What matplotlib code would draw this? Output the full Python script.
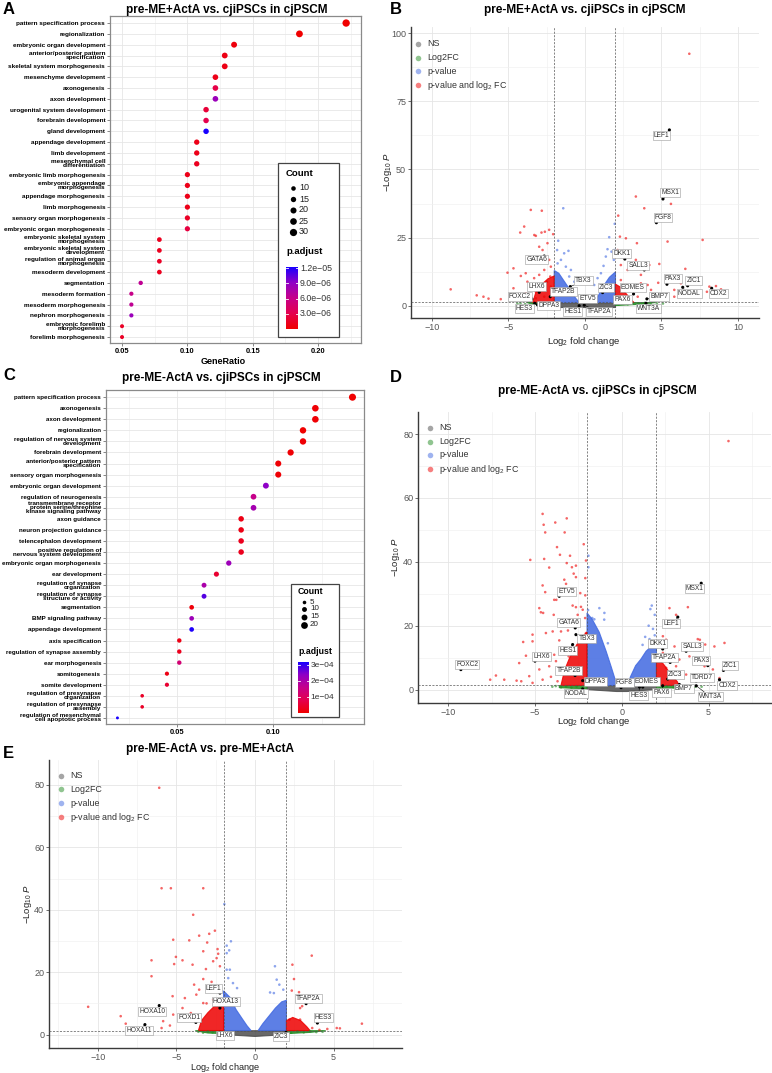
import numpy as np
import matplotlib
matplotlib.use('Agg')
import matplotlib.pyplot as plt
from matplotlib.colors import LinearSegmentedColormap
from matplotlib.lines import Line2D
from matplotlib.patches import Rectangle, Polygon
from matplotlib.ticker import MultipleLocator

plt.rcParams['font.family'] = ['Liberation Sans', 'DejaVu Sans']
plt.rcParams['mathtext.fontset'] = 'custom'
plt.rcParams['mathtext.rm'] = 'Liberation Sans'
plt.rcParams['mathtext.it'] = 'Liberation Sans:italic'
plt.rcParams['mathtext.bf'] = 'Liberation Sans:bold'

# ---------------- Panel A: GO enrichment (pre-ME+ActA vs cjiPSCs) ----------------
a_terms = ['pattern specification process', 'regionalization', 'embryonic organ development',
           'anterior/posterior pattern\nspecification', 'skeletal system morphogenesis',
           'mesenchyme development', 'axonogenesis', 'axon development',
           'urogenital system development', 'forebrain development', 'gland development',
           'appendage development', 'limb development', 'mesenchymal cell\ndifferentiation',
           'embryonic limb morphogenesis', 'embryonic appendage\nmorphogenesis',
           'appendage morphogenesis', 'limb morphogenesis', 'sensory organ morphogenesis',
           'embryonic organ morphogenesis', 'embryonic skeletal system\nmorphogenesis',
           'embryonic skeletal system\ndevelopment', 'regulation of animal organ\nmorphogenesis',
           'mesoderm development', 'segmentation', 'mesoderm formation',
           'mesoderm morphogenesis', 'nephron morphogenesis',
           'embryonic forelimb\nmorphogenesis', 'forelimb morphogenesis']
a_count = [31, 26, 19, 18, 18, 17, 17, 17, 16, 16, 16, 15, 15, 15, 14,
           14, 14, 14, 14, 14, 11, 11, 11, 11, 9, 8, 8, 8, 7, 7]
a_total = 140
a_padj = [2e-10, 5e-9, 5e-7, 8e-7, 8e-7, 1.0e-6, 2.8e-6, 8.5e-6, 2.2e-6, 3.0e-6,
          1.22e-5, 1.0e-6, 1.0e-6, 1.2e-6, 1.0e-6, 1.0e-6, 1.0e-6, 1.0e-6, 1.5e-6, 2.5e-6,
          1.2e-6, 1.2e-6, 1.5e-6, 1.2e-6, 6.5e-6, 6.0e-6, 6.5e-6, 8.5e-6, 1.5e-6, 1.5e-6]

# ---------------- Panel C: GO enrichment (pre-ME-ActA vs cjiPSCs) ----------------
c_terms = ['pattern specification process', 'axonogenesis', 'axon development', 'regionalization',
           'regulation of nervous system\ndevelopment', 'forebrain development',
           'anterior/posterior pattern\nspecification', 'sensory organ morphogenesis',
           'embryonic organ development', 'regulation of neurogenesis',
           'transmembrane receptor\nprotein serine/threonine\nkinase signaling pathway',
           'axon guidance', 'neuron projection guidance', 'telencephalon development',
           'positive regulation of\nnervous system development', 'embryonic organ morphogenesis',
           'ear development', 'regulation of synapse\norganization',
           'regulation of synapse\nstructure or activity', 'segmentation', 'BMP signaling pathway',
           'appendage development', 'axis specification', 'regulation of synapse assembly',
           'ear morphogenesis', 'somitogenesis', 'somite development',
           'regulation of presynapse\norganization', 'regulation of presynapse\nassembly',
           'regulation of mesenchymal\ncell apoptotic process']
c_count = [22, 19, 19, 18, 18, 17, 16, 16, 15, 14, 14, 13, 13, 13, 13, 12, 11, 10, 10,
           9, 9, 9, 8, 8, 8, 7, 7, 5, 5, 3]
c_total = 156
c_padj = [1e-9, 5e-6, 5e-6, 1e-6, 5e-6, 5e-6, 5e-6, 5e-6, 2.4e-4, 1.6e-4, 2.1e-4, 2e-5, 2e-5,
          3e-5, 3e-5, 2.2e-4, 5e-5, 2.0e-4, 2.8e-4, 1e-5, 2.2e-4, 3.15e-4, 2e-5, 3e-5, 1.3e-4,
          2e-5, 5e-5, 4e-5, 4e-5, 3.2e-4]

# ---------------- Panel B: volcano pre-ME+ActA vs cjiPSCs ----------------
b_genes = ['LEF1', 'MSX1', 'FGF8', 'DKK1', 'SALL3', 'PAX3', 'ZIC1', 'NODAL', 'CDX2', 'EOMES',
           'BMP7', 'WNT3A', 'PAX6', 'ZIC3', 'ETV5', 'TFAP2A', 'HES1', 'TBX3', 'TFAP2B', 'GATA6',
           'LHX6', 'FOXC2', 'HES3', 'DPPA3']
b_gene_fc = [5.52, 5.10, 4.67, 2.61, 3.88, 5.36, 6.71, 6.39, 8.28, 3.18, 4.05, 3.99, 2.42, 1.16,
             0.65, -0.04, -0.37, -0.95, -2.26, -2.65, -2.98, -3.46, -3.27, -3.09]
b_gene_p = [64.5, 39.2, 30.5, 17.2, 13.2, 7.95, 7.4, 6.85, 6.5, 4.4, 2.6, 1.0, 2.8, 4.9, 1.6,
            0.3, 0.1, 7.1, 3.4, 18.3, 5.0, 2.6, 1.0, 0.4]
b_red = [(-8.76, 6.1), (-7.06, 3.9), (-6.62, 3.4), (-6.29, 2.7), (-5.49, 2.5), (-5.05, 12.2),
         (-4.66, 13.8), (-4.66, 6.5), (-4.22, 26.9), (-3.96, 29.1), (-3.53, 35.2), (-2.81, 34.9),
         (-3.20, 25.7), (-3.30, 26.0), (-2.83, 26.9), (-2.61, 27.2), (-2.33, 27.9), (-2.07, 26.3),
         (-2.98, 21.7), (-2.76, 20.5), (-2.44, 23.0), (-2.33, 16.9), (-4.18, 11.0), (-3.86, 12.0),
         (-3.75, 8.9), (-3.31, 10.2), (-2.98, 11.4), (-2.65, 13.2), (-2.22, 14.4), (-4.24, 3.4),
         (-3.86, 4.6), (-3.42, 7.1), (-2.87, 7.7), (-2.48, 8.9), (-2.22, 7.1), (-2.26, 10.8),
         (-2.55, 5.9), (-3.20, 5.2), (-3.64, 3.4), (-2.65, 3.4), (-3.20, 2.8),
         (2.18, 33.1), (3.33, 40.1), (3.88, 35.8), (5.62, 37.4), (5.40, 23.6), (7.69, 24.2),
         (2.29, 25.4), (2.68, 24.8), (3.40, 23.0), (2.14, 20.5), (3.33, 16.9), (4.21, 15.0),
         (4.86, 15.4), (6.56, 13.6), (2.35, 15.0), (2.79, 13.2), (3.66, 11.4), (3.88, 13.2),
         (4.79, 8.5), (5.95, 10.2), (6.27, 8.3), (8.13, 7.1), (8.56, 7.3), (8.89, 6.1),
         (7.97, 5.2), (5.84, 5.9), (5.84, 3.4), (6.50, 3.4), (4.10, 7.7), (4.32, 5.9),
         (2.35, 9.5), (2.61, 7.1), (3.01, 5.9), (2.35, 5.2), (3.45, 3.4), (5.19, 2.8),
         (3.66, 8.3), (6.82, 92.4)]
b_blue = [(-1.41, 35.8), (-1.74, 23.9), (-1.81, 20.5), (-1.07, 20.2), (-1.35, 19.3),
          (-1.56, 16.9), (-1.78, 15.6), (-1.24, 14.4), (-0.91, 13.2), (-1.02, 10.8),
          (-0.69, 8.9), (1.95, 30.1), (1.59, 25.2), (1.48, 20.8), (1.37, 18.1), (1.74, 19.9),
          (1.92, 20.5), (1.22, 14.7), (1.05, 12.0), (0.83, 10.2), (0.61, 7.7), (1.89, 16.9)]
b_green = [(-4.4, 0.9), (-4.2, 1.0), (-3.9, 0.7), (-3.6, 1.1), (-3.4, 0.6), (-3.1, 0.9),
           (-2.8, 0.5), (-2.5, 0.8), (-2.2, 0.4), (2.2, 0.5), (2.5, 0.9), (2.8, 0.6), (3.1, 1.0),
           (3.5, 0.7), (3.9, 1.1), (4.3, 0.8), (4.7, 1.0), (5.1, 0.9)]
# dense point clouds, read as outlines
b_blue_core_l = [(-2.0, 1.3), (-2.0, 13), (-1.7, 12), (-1.4, 9.5), (-1.1, 7), (-0.8, 4.5),
                 (-0.55, 2.5), (-0.35, 1.3)]
b_blue_core_r = [(0.6, 1.3), (0.8, 3), (1.0, 5), (1.3, 8), (1.6, 10.5), (2.0, 12.5), (2.0, 1.3)]
b_red_core_l = [(-3.4, 1.3), (-3.2, 5), (-2.8, 8), (-2.4, 10), (-2.0, 11), (-2.0, 1.3)]
b_red_core_r = [(2.0, 1.3), (2.0, 8), (2.3, 7), (2.7, 4.5), (3.0, 2.5), (3.2, 1.3)]
b_green_core_l = [(-3.8, 1.25), (-2.0, 1.25), (-2.0, 0.15), (-3.0, 0.5)]
b_green_core_r = [(2.0, 0.15), (2.0, 1.25), (4.6, 1.25), (3.5, 0.6)]
b_grey_core = [(-2.0, -0.4), (-2.0, 1.25), (2.0, 1.25), (2.0, -0.4)]

# ---------------- Panel D: volcano pre-ME-ActA vs cjiPSCs ----------------
d_genes = ['MSX1', 'ETV5', 'LEF1', 'GATA6', 'TBX3', 'HES1', 'DKK1', 'SALL3', 'LHX6', 'TFAP2A',
           'PAX3', 'FOXC2', 'ZIC1', 'TFAP2B', 'TDRD7', 'ZIC3', 'DPPA3', 'CDX2', 'FGF8', 'EOMES',
           'NODAL', 'HES3', 'PAX6', 'BMP7', 'WNT3A']
d_gene_fc = [4.58, -3.6, 3.23, -2.68, -2.64, -2.83, 2.36, 3.71, -5.0, 2.79, 4.96, -9.27, 5.86,
             -2.69, 4.29, 2.65, -2.25, 5.63, -0.04, 1.21, -2.25, 1.02, 2.36, 3.32, 4.29]
d_gene_p = [33.3, 29.2, 22.7, 19.3, 17.2, 14.1, 12.7, 12.0, 8.9, 8.5, 7.5, 6.25, 6.0, 4.4, 2.6,
            3.3, 2.8, 3.1, 0.6, 0.8, 0.2, 0.8, 1.2, 1.6, 1.2]
d_red = [(-4.56, 55.0), (-4.50, 51.6), (-4.41, 49.2), (-3.83, 52.3), (-3.17, 53.6), (-3.29, 49.2),
         (-2.19, 45.5), (-3.73, 44.6), (-3.56, 42.2), (-2.98, 41.9), (-5.27, 40.6), (-4.47, 40.9),
         (-4.18, 38.2), (-3.17, 39.6), (-2.87, 38.3), (-2.64, 38.8), (-2.06, 40.4), (-2.77, 36.3),
         (-3.31, 34.4), (-2.64, 35.2), (-2.10, 34.9), (-3.21, 33.1), (-4.56, 32.6), (-4.41, 30.5),
         (-2.39, 30.2), (-2.10, 29.5), (-3.89, 28.1), (-3.77, 28.1), (-4.75, 25.5), (-4.66, 24.2),
         (-3.92, 23.4), (-2.83, 26.3), (-2.64, 25.8), (-2.35, 25.9), (-4.53, 24.0), (-5.14, 17.2),
         (-5.68, 14.9), (-5.14, 15.1), (-4.37, 17.7), (-3.98, 18.2), (-3.60, 15.4), (-3.50, 18.2),
         (-3.10, 18.5), (-5.91, 8.3), (-5.52, 10.6), (-4.85, 9.4), (-4.37, 10.9), (-3.89, 10.9),
         (-3.79, 8.9), (-4.18, 7.3), (-4.75, 6.3), (-5.33, 4.2), (-6.06, 2.8), (-6.77, 3.1),
         (-7.25, 4.4), (-7.58, 3.1), (-5.79, 2.6), (-5.14, 2.1), (-4.56, 3.1), (-4.08, 4.0),
         (-3.70, 2.6), (-2.25, 25.0), (-2.54, 23.4), (-2.11, 22.4), (-2.06, 17.7), (-3.44, 13.0),
         (-3.06, 10.4),
         (2.75, 25.5), (3.13, 23.4), (3.81, 25.8), (2.37, 16.7), (2.56, 15.6), (3.04, 13.5),
         (4.38, 15.8), (4.50, 15.6), (4.81, 14.1), (5.34, 13.5), (5.92, 14.6), (2.37, 11.5),
         (3.32, 9.4), (3.90, 10.4), (4.20, 8.3), (2.56, 6.8), (3.13, 7.3), (4.77, 7.3),
         (5.25, 6.3), (5.63, 3.6), (3.71, 4.7), (4.67, 4.2), (4.10, 3.1), (6.15, 77.8)]
d_blue = [(-1.92, 41.9), (-1.92, 38.3), (-1.29, 25.5), (-1.94, 24.9), (-1.00, 24.0),
          (-1.58, 22.0), (-1.01, 21.9), (-1.70, 22.4), (-0.80, 14.5), (1.73, 26.3), (1.65, 25.2),
          (1.90, 23.4), (1.55, 20.0), (1.80, 19.0), (1.90, 17.0), (1.35, 16.5), (1.60, 15.8),
          (1.20, 14.0)]
d_green = [(-4.0, 0.9), (-3.8, 1.1), (-3.5, 0.7), (-3.2, 1.0), (-2.9, 0.6), (-2.6, 0.9),
           (-2.3, 0.5), (2.2, 0.6), (2.6, 1.0), (3.0, 0.7), (3.4, 1.1), (3.8, 0.8), (4.2, 1.0),
           (4.6, 0.9)]
d_blue_core_l = [(-2.0, 1.3), (-2.0, 24), (-1.7, 22), (-1.3, 18), (-1.1, 15), (-0.9, 12),
                 (-0.6, 7), (-0.4, 3.5), (-0.25, 1.3)]
d_blue_core_r = [(0.35, 1.3), (0.5, 4), (0.8, 7.5), (1.1, 9.5), (1.4, 12), (1.7, 13.5),
                 (2.0, 14), (2.0, 1.3)]
d_red_core_l = [(-3.5, 1.3), (-3.3, 6), (-3.0, 10), (-2.6, 14), (-2.2, 17), (-2.0, 18),
                (-2.0, 1.3)]
d_red_core_r = [(2.0, 1.3), (2.0, 10), (2.4, 8), (2.8, 5), (3.2, 2.5), (3.3, 1.3)]
d_green_core_l = [(-3.6, 0.6), (-3.6, 1.25), (-2.0, 1.25), (-2.0, 0.3), (-2.8, 0.4)]
d_green_core_r = [(2.0, 0.3), (2.0, 1.25), (4.3, 1.25), (4.3, 0.8), (3.0, 0.5)]
d_grey_core = [(-2.0, 0.0), (-2.0, 1.25), (2.0, 1.25), (2.0, 0.0), (0.3, -0.6), (-0.3, -0.6)]

# ---------------- Panel E: volcano pre-ME-ActA vs pre-ME+ActA ----------------
e_genes = ['LEF1', 'HOXA13', 'HOXA10', 'FOXD1', 'HOXA11', 'LHX6', 'ZIC3', 'TFAP2A', 'HES3']
e_gene_fc = [-2.23, -2.23, -6.09, -3.76, -7.0, -2.23, 1.97, 3.25, 3.97]
e_gene_p = [13.3, 8.5, 9.3, 3.9, 3.2, 0.7, 0.7, 9.9, 3.7]
e_red = [(-10.61, 8.9), (-8.54, 5.9), (-8.22, 3.5), (-6.58, 18.7), (-6.58, 23.8), (-5.84, 4.3),
         (-5.94, 2.1), (-5.41, 2.9), (-5.24, 12.3), (-5.20, 30.4), (-5.03, 24.9), (-5.14, 22.6),
         (-4.61, 23.8), (-4.18, 30.2), (-3.97, 22.4), (-3.87, 16.0), (-3.55, 31.7), (-2.91, 32.3),
         (-2.55, 33.3), (-3.04, 29.5), (-3.29, 26.7), (-3.12, 21.0), (-3.29, 17.8), (-2.76, 16.9),
         (-2.38, 27.4), (-2.44, 24.5), (-2.23, 21.9), (-2.34, 25.9), (-2.66, 23.5), (-3.55, 14.4),
         (-4.46, 11.7), (-4.61, 8.5), (-5.20, 6.4), (-4.08, 6.9), (-4.46, 4.8), (-3.29, 10.1),
         (-3.73, 12.8), (-3.08, 10.0), (-2.66, 11.2), (-6.09, 79.1), (-5.94, 46.9), (-5.35, 46.9),
         (-3.29, 46.9), (-3.93, 38.4),
         (2.38, 22.4), (2.48, 17.8), (3.61, 25.3), (2.34, 14.1), (2.80, 13.6), (2.87, 8.5),
         (3.00, 9.1), (6.80, 3.5), (5.20, 2.1), (5.40, 2.0), (3.64, 2.1), (4.60, 1.8),
         (4.10, 1.5), (2.19, 4.8), (2.87, 4.8)]
e_blue = [(-1.95, 41.8), (-1.80, 28.5), (-1.53, 29.9), (-1.64, 27.0), (-1.80, 26.1),
          (-1.80, 20.8), (-1.60, 20.8), (-1.70, 18.1), (-1.40, 16.5), (-1.14, 14.9), (1.27, 21.9),
          (1.80, 14.4), (1.38, 17.6), (0.96, 13.5), (1.55, 16.0), (1.20, 13.3)]
e_green = [(-3.6, 0.9), (-3.3, 0.6), (-3.0, 1.0), (-2.7, 0.7), (-2.4, 0.5), (2.3, 0.6),
           (2.7, 1.0), (3.1, 0.7), (3.5, 1.1), (3.9, 0.8), (4.3, 0.9)]
e_blue_core_l = [(-2.0, 1.3), (-2.0, 14), (-1.6, 12), (-1.2, 8), (-0.8, 5), (-0.5, 2.8),
                 (-0.25, 1.3)]
e_blue_core_r = [(0.2, 1.3), (0.5, 3.5), (0.9, 6), (1.3, 8.5), (1.7, 10.5), (2.0, 11), (2.0, 1.3)]
e_red_core_l = [(-3.6, 1.3), (-3.4, 4.5), (-3.0, 7), (-2.6, 9), (-2.2, 10), (-2.0, 10), (-2.0, 1.3)]
e_red_core_r = [(2.0, 1.3), (2.0, 4.5), (2.4, 5.5), (2.9, 4.5), (3.3, 2.5), (3.5, 1.3)]
e_green_core_l = [(-3.8, 1.25), (-2.0, 1.25), (-2.0, 0.3), (-3.0, 0.5)]
e_green_core_r = [(2.0, 0.3), (2.0, 1.25), (4.5, 1.25), (3.5, 0.7)]
e_grey_core = [(-2.0, 0.0), (-2.0, 1.25), (2.0, 1.25), (2.0, 0.0), (0.0, -0.6)]

# label placement (ggrepel-like), in data units
b_lab_x = [5.0, 5.58, 5.10, 2.42, 3.49, 5.75, 7.1, 6.82, 8.72, 3.12, 4.84, 4.14, 2.46, 1.37, 0.18,
           0.94, -0.78, -0.1, -1.41, -3.14, -3.16, -4.25, -3.96, -2.37]
b_lab_y = [62.4, 41.5, 32.5, 19.1, 14.9, 10.2, 9.5, 4.7, 4.4, 6.7, 3.4, -1.0, 2.5, 6.9, 2.6, -2.2,
           -2.1, 9.2, 5.2, 16.9, 7.3, 3.3, -1.0, 0.0]
d_lab_x = [4.19, -3.17, 2.84, -3.06, -2.02, -3.12, 2.08, 4.06, -4.62, 2.46, 4.58, -8.89, 6.25,
           -3.06, 4.62, 3.09, -1.52, 6.06, 0.15, 1.44, -2.64, 0.98, 2.29, 3.58, 5.1]
d_lab_y = [31.6, 30.7, 20.8, 21.0, 15.9, 12.2, 14.5, 13.4, 10.4, 10.1, 9.1, 8.0, 7.5, 6.0, 3.8,
           4.6, 2.5, 1.3, 2.2, 2.5, -1.3, -1.7, -1.0, 0.2, -2.2]
e_lab_x = [-2.63, -1.85, -6.52, -4.18, -7.37, -1.91, 1.64, 3.4, 4.35]
e_lab_y = [14.9, 10.5, 7.5, 5.5, 1.3, -0.3, -0.5, 11.5, 5.5]

W, H = 772, 1073
fig = plt.figure(figsize=(W / 100, H / 100), dpi=100)

cmap = LinearSegmentedColormap.from_list(
    'padj', [(0, '#F00000'), (0.25, '#E5004E'), (0.5, '#C6008A'), (0.75, '#9000C6'), (1, '#1800FF')])

COL = {'NS': '#4D4D4D', 'FC': '#228B22', 'P': '#4169E1', 'PFC': '#EE0000'}


def fx(x):
    return x / W


def fy(y):
    return 1 - y / H


def px_axes(x0, y0, x1, y1):
    return fig.add_axes([x0 / W, 1 - y1 / H, (x1 - x0) / W, (y1 - y0) / H])


def ftext(x, y, s, **kw):
    fig.text(fx(x), fy(y), s, **kw)


def dotplot(rect, terms, counts, total, padj, vmax, xlim, xticks, size_fn, fs):
    ax = px_axes(*rect)
    counts = np.array(counts)
    y = np.arange(len(terms))
    ax.scatter(counts / total, y, s=size_fn(counts), c=padj, cmap=cmap, vmin=0, vmax=vmax,
               edgecolors='none', zorder=3)
    ax.set_xlim(*xlim)
    ax.set_ylim(len(terms) - 1 + 0.55, -0.65)
    ax.set_yticks(y)
    ax.set_yticklabels(terms, fontsize=fs, fontweight='bold', linespacing=0.75)
    ax.set_xticks(xticks)
    ax.set_xticklabels(['%.2f' % t for t in xticks], fontsize=5.4, fontweight='bold')
    ax.xaxis.set_minor_locator(MultipleLocator(0.025))
    ax.set_axisbelow(True)
    ax.grid(which='major', color='#E6E6E6', lw=0.6)
    ax.grid(which='minor', axis='x', color='#F0F0F0', lw=0.5)
    ax.tick_params(axis='both', length=2, width=0.5, color='#555555', pad=1.5)
    ax.tick_params(axis='x', which='minor', length=0)
    for s in ax.spines.values():
        s.set_color('#8A8A8A')
        s.set_linewidth(0.9)
    return ax


def legend_box(x0, y0, x1, y1):
    fig.add_artist(Rectangle((fx(x0), fy(y1)), (x1 - x0) / W, (y1 - y0) / H,
                             transform=fig.transFigure, fc='white', ec='#444444', lw=0.9,
                             zorder=1))


def colorbar(rect, vmax, ticks, labels, fs):
    cb = px_axes(*rect)
    cb.set_zorder(5)
    cb.patch.set_alpha(0)
    grad = np.linspace(0, vmax, 256).reshape(-1, 1)
    cb.imshow(grad, origin='lower', extent=[0, 1, 0, vmax], aspect='auto', cmap=cmap,
              vmin=0, vmax=vmax)
    cb.set_xlim(0, 1)
    cb.set_ylim(0, vmax)
    cb.axis('off')
    tr = cb.get_yaxis_transform()
    for t, lab in zip(ticks, labels):
        cb.plot([0, 0.2], [t, t], color='white', lw=0.6, transform=tr)
        cb.plot([0.8, 1], [t, t], color='white', lw=0.6, transform=tr)
        cb.text(1.15, t, lab, transform=tr, fontsize=fs, va='center', ha='left', color='#333333',
                clip_on=False)


# ---- Panel A ----
size_a = lambda c: 2.6 + 0.82 * c
dotplot((110, 16, 361, 343), a_terms, a_count, a_total, a_padj, 1.22e-5, (0.0408, 0.2328),
        [0.05, 0.10, 0.15, 0.20], size_a, 4.6)
legend_box(278, 163, 339, 337)
ftext(286, 174, 'Count', fontsize=6.8, fontweight='bold', va='center', zorder=4)
for c, yy in zip([10, 15, 20, 25, 30], [188, 199, 210, 221, 232]):
    fig.add_artist(Line2D([fx(293)], [fy(yy)], marker='o', ms=np.sqrt(size_a(c)), color='black',
                          mec='none', ls='', transform=fig.transFigure, zorder=4))
    ftext(299, yy, str(c), fontsize=6.5, va='center', color='#222222', zorder=4)
ftext(286, 252, 'p.adjust', fontsize=6.8, fontweight='bold', va='center', zorder=4)
colorbar((286, 267, 298, 329), 1.22e-5, [3e-6, 6e-6, 9e-6, 1.2e-5],
         ['3.0e\u221206', '6.0e\u221206', '9.0e\u221206', '1.2e\u221205'], 6.3)
ftext(223, 362, 'GeneRatio', fontsize=6.5, fontweight='bold', ha='center', va='center')
ftext(227, 10, 'pre-ME+ActA vs. cjiPSCs in cjPSCM', fontsize=8.5, fontweight='bold',
      ha='center', va='center')
ftext(3, 10, 'A', fontsize=12, fontweight='bold', va='center')

# ---- Panel C ----
size_c = lambda c: 1.1 + 1.13 * c
dotplot((106, 390, 364, 724), c_terms, c_count, c_total, c_padj, 3.2e-4, (0.0133, 0.147),
        [0.05, 0.10], size_c, 4.5)
legend_box(291, 584, 339, 717)
ftext(298, 591, 'Count', fontsize=6.3, fontweight='bold', va='center', zorder=4)
for c, yy in zip([5, 10, 15, 20], [602, 609, 617, 625]):
    fig.add_artist(Line2D([fx(304)], [fy(yy)], marker='o', ms=np.sqrt(size_c(c)), color='black',
                          mec='none', ls='', transform=fig.transFigure, zorder=4))
    ftext(310, yy, str(c), fontsize=5.8, va='center', color='#222222', zorder=4)
ftext(298, 651, 'p.adjust', fontsize=6.3, fontweight='bold', va='center', zorder=4)
colorbar((298, 662, 309, 713), 3.2e-4, [1e-4, 2e-4, 3e-4],
         ['1e\u221204', '2e\u221204', '3e\u221204'], 6.0)
ftext(221, 378, 'pre-ME-ActA vs. cjiPSCs in cjPSCM', fontsize=8.5, fontweight='bold',
      ha='center', va='center')
ftext(3, 376, 'C', fontsize=12, fontweight='bold', va='center')


def volcano(rect, cores, red, blue, green, genes, gfc, gp, lab_x, lab_y, xlim, ylim, ystep):
    ax = px_axes(*rect)
    ax.set_xlim(*xlim)
    ax.set_ylim(*ylim)
    ax.xaxis.set_major_locator(MultipleLocator(5))
    ax.xaxis.set_minor_locator(MultipleLocator(2.5))
    ax.yaxis.set_major_locator(MultipleLocator(ystep))
    ax.yaxis.set_minor_locator(MultipleLocator(ystep / 2))
    ax.set_axisbelow(True)
    ax.grid(which='major', color='#E5E5E5', lw=0.6)
    ax.grid(which='minor', color='#F0F0F0', lw=0.45)
    ax.tick_params(axis='both', which='major', labelsize=6.5, labelcolor='#555555', length=2,
                   width=0.6, color='#555555', pad=1.5)
    ax.tick_params(axis='both', which='minor', length=0)
    ax.set_xticks(ax.get_xticks())
    ax.set_xticklabels([('\u2212%d' % -t if t < 0 else '%d' % t) for t in ax.get_xticks()])
    ax.set_xlim(*xlim)
    for s in ['top', 'right']:
        ax.spines[s].set_visible(False)
    for s in ['left', 'bottom']:
        ax.spines[s].set_color('#3A3A3A')
        ax.spines[s].set_linewidth(1.0)
    for key, pts in cores:
        ax.add_patch(Polygon(pts, closed=True, fc=COL[key], ec=COL[key], lw=0.8, alpha=0.85,
                             zorder=2))
    for key, pts in [('FC', green), ('P', blue), ('PFC', red)]:
        xs, ys = zip(*pts)
        ax.scatter(xs, ys, s=3.5, color=COL[key], alpha=0.6, edgecolors='none', zorder=3)
    ax.axvline(-2, color='#555555', lw=0.5, ls=(0, (3, 2)), zorder=4)
    ax.axvline(2, color='#555555', lw=0.5, ls=(0, (3, 2)), zorder=4)
    ax.axhline(1.3, color='#555555', lw=0.5, ls=(0, (3, 2)), zorder=4)
    ax.scatter(gfc, gp, s=5, color='black', edgecolors='none', zorder=5)
    for g, x, y, lx, ly in zip(genes, gfc, gp, lab_x, lab_y):
        ax.annotate(g, xy=(x, y), xytext=(lx, ly), textcoords='data', ha='center', va='center',
                    fontsize=4.8, color='#333333', zorder=6,
                    bbox=dict(boxstyle='square,pad=0.15', fc='white', ec='#999999', lw=0.4),
                    arrowprops=dict(arrowstyle='-', lw=0.4, color='black', shrinkA=0, shrinkB=0))
    return ax


def vlegend(x, ys):
    for key, lab, yy in zip(['NS', 'FC', 'P', 'PFC'],
                            ['NS', 'Log2FC', 'p-value', 'p-value and log$_2$ FC'], ys):
        fig.add_artist(Line2D([fx(x)], [fy(yy)], marker='o', ms=4.0, color=COL[key], alpha=0.5,
                              mec='none', ls='', transform=fig.transFigure))
        ftext(x + 9, yy, lab, fontsize=6.4, va='center', color='#333333')


def cores_of(grey, gl, gr, bl, br, rl, rr):
    return [('NS', grey), ('FC', gl), ('FC', gr), ('P', bl), ('P', br), ('PFC', rl), ('PFC', rr)]


YLAB = r'$-\mathrm{Log}_{10}\ \mathit{P}$'
XLAB = r'$\mathrm{Log}_{2}$ fold change'

# ---- Panel B ----
volcano((411, 27, 759, 318),
        cores_of(b_grey_core, b_green_core_l, b_green_core_r, b_blue_core_l, b_blue_core_r,
                 b_red_core_l, b_red_core_r),
        b_red, b_blue, b_green, b_genes, b_gene_fc, b_gene_p, b_lab_x, b_lab_y,
        (-11.35, 11.37), (-4.4, 102.2), 25)
vlegend(418, [44, 58, 71, 85])
ftext(585, 10, 'pre-ME+ActA vs. cjiPSCs in cjPSCM', fontsize=8.5, fontweight='bold',
      ha='center', va='center')
ftext(390, 10, 'B', fontsize=12, fontweight='bold', va='center')
ftext(584, 342, XLAB, fontsize=6.8, ha='center', va='center', color='#222222')
ftext(388, 172, YLAB, fontsize=6.8, ha='center', va='center', rotation=90, color='#222222')

# ---- Panel D ----
volcano((418, 412, 771, 703),
        cores_of(d_grey_core, d_green_core_l, d_green_core_r, d_blue_core_l, d_blue_core_r,
                 d_red_core_l, d_red_core_r),
        d_red, d_blue, d_green, d_genes, d_gene_fc, d_gene_p, d_lab_x, d_lab_y,
        (-11.74, 8.6), (-4.2, 86.9), 20)
vlegend(430, [428, 442, 455, 469])
ftext(597, 391, 'pre-ME-ActA vs. cjiPSCs in cjPSCM', fontsize=8.5, fontweight='bold',
      ha='center', va='center')
ftext(390, 377, 'D', fontsize=12, fontweight='bold', va='center')
ftext(594, 722, XLAB, fontsize=6.8, ha='center', va='center', color='#222222')
ftext(396, 557, YLAB, fontsize=6.8, ha='center', va='center', rotation=90, color='#222222')

# ---- Panel E ----
volcano((49, 760, 402, 1048),
        cores_of(e_grey_core, e_green_core_l, e_green_core_r, e_blue_core_l, e_blue_core_r,
                 e_red_core_l, e_red_core_r),
        e_red, e_blue, e_green, e_genes, e_gene_fc, e_gene_p, e_lab_x, e_lab_y,
        (-13.1, 9.35), (-4.3, 88), 20)
vlegend(61, [776, 789, 803, 817])
ftext(210, 749, 'pre-ME-ActA vs. pre-ME+ActA', fontsize=8.5, fontweight='bold',
      ha='center', va='center')
ftext(3, 753, 'E', fontsize=12, fontweight='bold', va='center')
ftext(225, 1067.5, XLAB, fontsize=6.6, ha='center', va='center', color='#222222')
ftext(28, 904, YLAB, fontsize=6.8, ha='center', va='center', rotation=90, color='#222222')

fig.savefig('out.png', dpi=100)
